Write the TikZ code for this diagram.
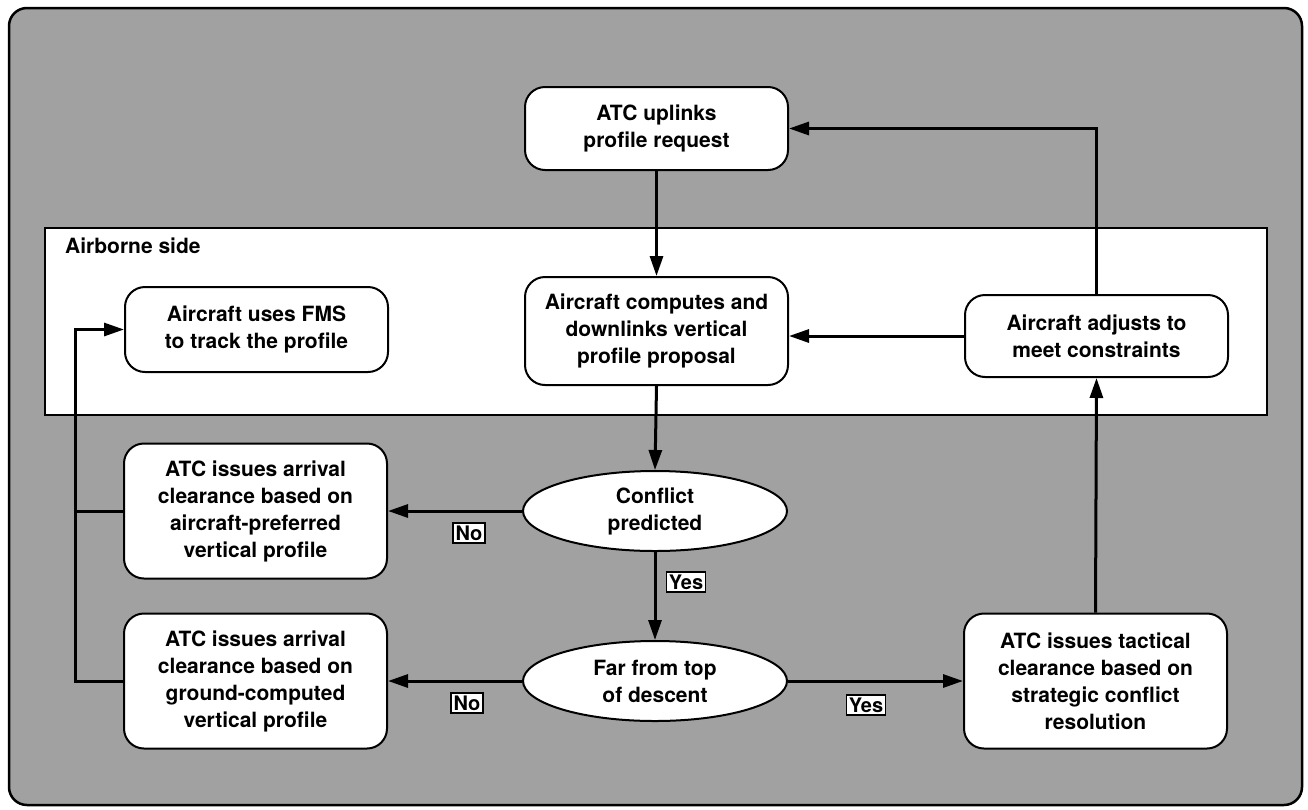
\documentclass[tikz,border=0pt]{standalone}
\usepackage{fontspec}
\setmainfont{TeX Gyre Heros}
\usetikzlibrary{shapes.geometric,arrows.meta}
\begin{document}
\begin{tikzpicture}[x=1pt,y=-1pt,
  txt/.style={font=\fontsize{21}{27}\selectfont\bfseries},
  box/.style={txt,draw=black,line width=2pt,fill=white,rounded corners=20pt,
    minimum width=263pt,align=center,inner sep=0pt},
  oval/.style={txt,draw=black,line width=2pt,fill=white,ellipse,
    minimum width=264pt,minimum height=80pt,inner sep=0pt,align=center},
  lbl/.style={draw=black,line width=1.5pt,fill=white,inner sep=2.5pt,
    font=\fontsize{20}{22}\selectfont\bfseries},
  conn/.style={line width=3pt,-{Triangle[length=20pt,width=13pt]}},
  plainline/.style={line width=3pt}]

\useasboundingbox (0,0) rectangle (1308,809);
\node[draw=black,line width=2.5pt,fill=black!37,rounded corners=18pt,
  minimum width=1293pt,minimum height=797pt,inner sep=0pt] (frame) at (655.5,406.5) {};

\node[draw=black,line width=1.8pt,fill=white,minimum width=1222pt,
  minimum height=187pt,inner sep=0pt] (panel) at (656,321.5) {};
\node[txt,anchor=north west,inner sep=0pt] (side) at (65,238) {Airborne side};

\node[box,minimum height=83pt] (up) at (656.5,128.5) {ATC uplinks\\profile request};
\node[box,minimum height=85pt] (fms) at (256.5,329.5) {Aircraft uses FMS\\to track the profile};
\node[box,minimum height=108pt] (comp) at (656.5,331) {Aircraft computes and\\downlinks vertical\\profile proposal};
\node[box,minimum height=82pt] (adj) at (1096.5,336) {Aircraft adjusts to\\meet constraints};

\node[oval] (conf) at (655,511) {Conflict\\predicted};
\node[box,minimum height=135pt] (arr1) at (255.5,511) {ATC issues arrival\\clearance based on\\aircraft-preferred\\vertical profile};
\node[oval] (far) at (655,681) {Far from top\\of descent};
\node[box,minimum height=135pt] (arr2) at (255.5,681) {ATC issues arrival\\clearance based on\\ground-computed\\vertical profile};
\node[box,minimum height=135pt] (tac) at (1095.5,681) {ATC issues tactical\\clearance based on\\strategic conflict\\resolution};

\coordinate (lx) at (75,0);

\draw[conn] (up.south) -- (comp.north);
\draw[conn] (comp.south) -- (conf.north);
\draw[conn] (conf.west) -- (arr1.east);
\draw[conn] (conf.south) -- (far.north);
\draw[conn] (far.west) -- (arr2.east);
\draw[conn] (far.east) -- (tac.west);
\draw[conn] (tac.north) -- (adj.south);
\draw[conn] (adj.west) -- (adj.west -| comp.east);
\draw[conn] (adj.north) |- (up.east);
\draw[plainline] (arr1.west) -- (arr1.west -| lx);
\draw[conn,line join=miter] (arr2.west) -- (arr2.west -| lx) |- (fms.west);

\node[lbl] (no1) at (469,533) {No};
\node[lbl] (no2) at (467,703) {No};
\node[lbl] (yes1) at (686,582) {Yes};
\node[lbl] (yes2) at (866,705) {Yes};
\end{tikzpicture}
\end{document}
